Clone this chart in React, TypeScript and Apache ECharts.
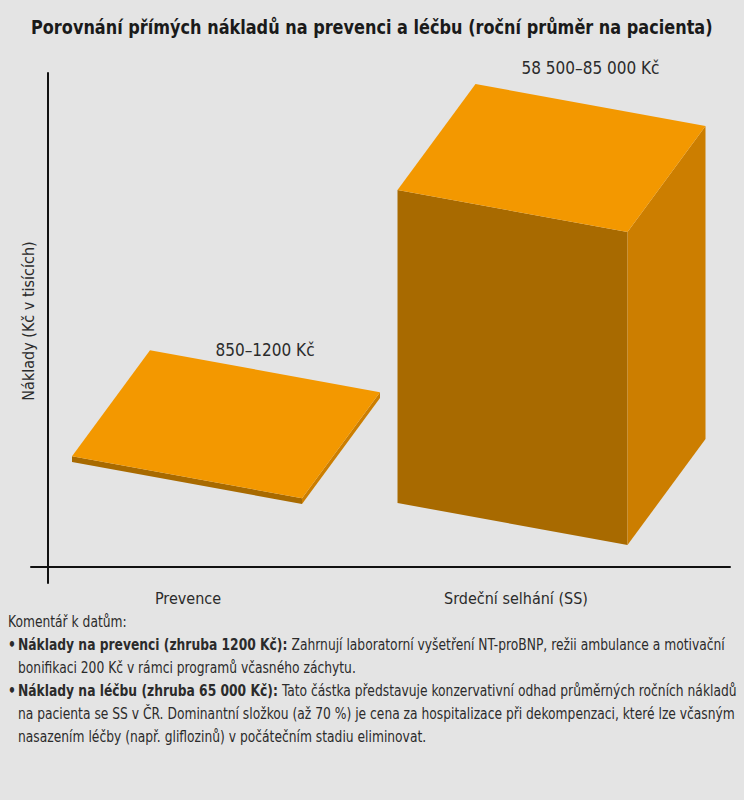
import React, { useEffect, useRef } from "react";
import * as echarts from "echarts";

const TITLE = "Porovnání přímých nákladů na prevenci a léčbu (roční průměr na pacienta)";
const Y_AXIS_NAME = "Náklady (Kč v tisících)";
const CATEGORIES = ["Prevence", "Srdeční selhání (SS)"];
const COST_THOUSANDS = [1.2, 65];
const RANGE_LABELS = ["850–1200 Kč", "58 500–85 000 Kč"];
const NOTE_HEADING = "Komentář k datům:";
const NOTE1_BOLD = "Náklady na prevenci (zhruba 1200 Kč):";
const NOTE1_LINES = [
  " Zahrnují laboratorní vyšetření NT-proBNP, režii ambulance a motivační",
  "bonifikaci 200 Kč v rámci programů včasného záchytu.",
];
const NOTE2_BOLD = "Náklady na léčbu (zhruba 65 000 Kč):";
const NOTE2_LINES = [
  " Tato částka představuje konzervativní odhad průměrných ročních nákladů",
  "na pacienta se SS v ČR. Dominantní složkou (až 70 %) je cena za hospitalizace při dekompenzaci, které lze včasným",
  "nasazením léčby (např. gliflozinů) v počátečním stadiu eliminovat.",
];

const FONT = '"Liberation Sans Narrow", "DejaVu Sans Condensed", "Noto Sans", sans-serif';
const BG = "#e4e4e4";
const TOP_C = "#f39800";
const FRONT_C = "#a86a00";
const SIDE_C = "#cc7e00";
const TEXT_C = "#2b2b2b";
const FRONT_W = 230;
const FRONT_SLOPE = 42;
const DEPTH = [78, -106];
const BAR_LIFT = [84, 43];
const BAR_SHIFT = [-1, -3.5];
const LABEL_DY = [-21, -37];

export default function App() {
  const ref = useRef<HTMLDivElement>(null);
  useEffect(() => {
    if (!ref.current) return;
    const chart = echarts.init(ref.current, undefined, { renderer: "svg" });
    const noteSize = 15;
    const noteScale = 0.912;
    const lineH = 23;
    const noteTop = 622;
    const bulletTop = 645;
    const txt = (x: number, y: number, text: string, bold = false, rich?: any) => ({
      type: "text",
      x,
      y,
      scaleX: noteScale,
      style: {
        text,
        font: `${bold ? "bold " : ""}${noteSize}px ${FONT}`,
        fill: TEXT_C,
        verticalAlign: "middle",
        ...(rich ? { rich } : {}),
      },
    });
    const richBold = { b: { fontWeight: "bold", fontSize: noteSize, fontFamily: FONT, fill: TEXT_C } };
    const graphic: any[] = [
      {
        type: "text",
        x: 31,
        y: 27,
        scaleX: 0.896,
        style: { text: TITLE, font: `bold 20px ${FONT}`, fill: "#1a1a1a", verticalAlign: "middle" },
      },
      txt(8, noteTop, NOTE_HEADING),
      txt(8, bulletTop, "•", true),
      txt(18, bulletTop, `{b|${NOTE1_BOLD}}${NOTE1_LINES[0]}`, false, richBold),
      txt(18, bulletTop + lineH, NOTE1_LINES[1]),
      txt(8, bulletTop + lineH * 2, "•", true),
      txt(18, bulletTop + lineH * 2, `{b|${NOTE2_BOLD}}${NOTE2_LINES[0]}`, false, richBold),
      txt(18, bulletTop + lineH * 3, NOTE2_LINES[1]),
      txt(18, bulletTop + lineH * 4, NOTE2_LINES[2]),
    ];

    const option: any = {
      animation: false,
      backgroundColor: BG,
      grid: { left: 31, right: 14, top: 73, bottom: 217 },
      xAxis: {
        type: "value",
        min: -0.4787,
        max: 1.6524,
        splitLine: { show: false },
        axisTick: { show: false },
        axisLine: { onZero: true, lineStyle: { color: "#111", width: 2 } },
        axisLabel: {
          customValues: [0, 1],
          formatter: (v: number) => CATEGORIES[Math.round(v)] ?? "",
          margin: 7,
          fontSize: 16,
          color: TEXT_C,
          fontFamily: FONT,
        },
      },
      yAxis: {
        type: "value",
        min: -3.32,
        max: 102.6,
        offset: -17,
        name: Y_AXIS_NAME,
        nameLocation: "middle",
        nameGap: 12,
        nameTextStyle: { fontSize: 16, color: TEXT_C, fontFamily: FONT, padding: [0, 0, 0, 14] },
        splitLine: { show: false },
        axisTick: { show: false },
        axisLabel: { show: false },
        axisLine: { show: true, onZero: false, lineStyle: { color: "#111", width: 2 } },
      },
      series: [
        {
          type: "custom",
          clip: false,
          data: COST_THOUSANDS.map((v, i) => [i, v]),
          renderItem: (params: any, api: any) => {
            const idx = params.dataIndex;
            const xv = api.value(0);
            const v = api.value(1);
            const base = api.coord([xv, 0]);
            const top = api.coord([xv, v]);
            const h = base[1] - top[1];
            const blx = base[0] - FRONT_W / 2 + BAR_SHIFT[idx];
            const bly = base[1] - BAR_LIFT[idx] - FRONT_SLOPE / 2;
            const BL = [blx, bly];
            const BR = [blx + FRONT_W, bly + FRONT_SLOPE];
            const TL = [BL[0], BL[1] - h];
            const TR = [BR[0], BR[1] - h];
            const add = (p: number[]) => [p[0] + DEPTH[0], p[1] + DEPTH[1]];
            const BTL = add(TL);
            const BTR = add(TR);
            const BBR = add(BR);
            return {
              type: "group",
              children: [
                { type: "polygon", shape: { points: [BL, BR, TR, TL] }, style: { fill: FRONT_C } },
                { type: "polygon", shape: { points: [BR, BBR, BTR, TR] }, style: { fill: SIDE_C } },
                { type: "polygon", shape: { points: [TL, TR, BTR, BTL] }, style: { fill: TOP_C } },
                {
                  type: "text",
                  x: (BTL[0] + BTR[0]) / 2,
                  y: (BTL[1] + BTR[1]) / 2 + LABEL_DY[idx],
                  style: {
                    text: RANGE_LABELS[idx],
                    fill: TEXT_C,
                    fontSize: 17,
                    fontFamily: FONT,
                    align: "center",
                    verticalAlign: "middle",
                  },
                },
              ],
            };
          },
        },
      ],
      graphic,
    };
    chart.setOption(option);
    return () => chart.dispose();
  }, []);
  return (
    <div
      ref={ref}
      style={{ position: "fixed", left: 0, top: 0, width: 744, height: 800, background: BG }}
    />
  );
}
